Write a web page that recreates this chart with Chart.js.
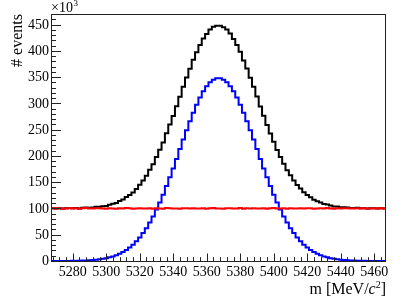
<!DOCTYPE html>
<html>
<head>
<meta charset="utf-8">
<script src="https://cdn.jsdelivr.net/npm/chart.js@4.4.0/dist/chart.umd.min.js"></script>
<style>
    html, body { margin: 0; padding: 0; background: #fff; }
    #wrap { width: 407px; height: 299px; }
</style>
</head>
<body>
<div id="wrap"><canvas id="massPlot" width="407" height="299"></canvas></div>
<script>
// histogram bin edges, m [MeV/c^2], 2 MeV bins
const binEdges = [
    5267, 5269, 5271, 5273, 5275, 5277, 5279, 5281, 5283, 5285,
    5287, 5289, 5291, 5293, 5295, 5297, 5299, 5301, 5303, 5305,
    5307, 5309, 5311, 5313, 5315, 5317, 5319, 5321, 5323, 5325,
    5327, 5329, 5331, 5333, 5335, 5337, 5339, 5341, 5343, 5345,
    5347, 5349, 5351, 5353, 5355, 5357, 5359, 5361, 5363, 5365,
    5367, 5369, 5371, 5373, 5375, 5377, 5379, 5381, 5383, 5385,
    5387, 5389, 5391, 5393, 5395, 5397, 5399, 5401, 5403, 5405,
    5407, 5409, 5411, 5413, 5415, 5417, 5419, 5421, 5423, 5425,
    5427, 5429, 5431, 5433, 5435, 5437, 5439, 5441, 5443, 5445,
    5447, 5449, 5451, 5453, 5455, 5457, 5459, 5461, 5463, 5465,
    5467
];

// events per bin (x10^3)
const totalCounts = [
    100.2, 99.8, 100.6, 99.7, 100.3, 100.9, 100.2, 100.7, 100.1, 101.2,
    101.9, 101.5, 101.6, 103.1, 103.4, 104.0, 104.8, 107.2, 108.7, 110.6,
    114.2, 116.9, 121.7, 125.8, 130.3, 137.1, 145.1, 153.2, 162.3, 173.7,
    184.3, 198.1, 211.5, 225.6, 243.3, 259.6, 276.0, 294.4, 312.4, 331.6,
    349.1, 365.9, 382.8, 397.1, 411.0, 423.2, 432.0, 440.3, 445.9, 447.6,
    447.8, 444.7, 440.5, 432.7, 422.6, 411.0, 398.1, 381.6, 366.4, 348.8,
    331.7, 313.1, 294.0, 276.5, 258.8, 242.8, 226.9, 211.3, 197.9, 185.1,
    172.7, 163.0, 153.2, 144.6, 137.8, 130.7, 125.8, 121.5, 116.5, 113.7,
    111.3, 108.5, 107.6, 105.5, 103.8, 103.6, 102.4, 102.1, 101.9, 100.7,
    100.9, 101.2, 100.2, 100.6, 99.7, 100.2, 100.5, 100.0, 100.2, 99.8
];

const signalCounts = [
    0, 0, 0.1, 0.1, 0.2, 0.2, 0.3, 0.4, 0.6, 0.8,
    1.0, 1.4, 1.9, 2.5, 3.2, 4.2, 5.4, 6.9, 8.7, 11.0,
    13.7, 17.0, 20.9, 25.6, 31.0, 37.4, 44.7, 53.1, 62.5, 73.1,
    84.8, 97.9, 111.5, 126.0, 142.6, 159.3, 176.1, 194.3, 213.0, 231.1,
    248.9, 266.1, 282.2, 297.4, 311.0, 322.8, 332.5, 340.0, 345.1, 347.7,
    347.7, 345.1, 340.0, 332.5, 322.8, 311.0, 297.4, 282.2, 266.1, 248.9,
    231.1, 213.0, 194.3, 176.1, 159.3, 142.6, 126.0, 111.5, 97.9, 84.8,
    73.1, 62.5, 53.1, 44.7, 37.4, 31.0, 25.6, 20.9, 17.0, 13.7,
    11.0, 8.7, 6.9, 5.4, 4.2, 3.2, 2.5, 1.9, 1.4, 1.0,
    0.8, 0.6, 0.4, 0.3, 0.2, 0.2, 0.1, 0.1, 0, 0
];

const flatCounts = [
    100.2, 99.8, 100.5, 99.6, 100.1, 100.7, 99.9, 100.3, 99.5, 100.4,
    100.9, 100.1, 99.7, 100.6, 100.2, 99.8, 99.4, 100.3, 100.0, 99.6,
    100.5, 99.9, 100.8, 100.2, 99.3, 99.7, 100.4, 100.1, 99.8, 100.6,
    99.5, 100.2, 100.0, 99.6, 100.7, 100.3, 99.9, 100.1, 99.4, 100.5,
    100.2, 99.8, 100.6, 99.7, 100.0, 100.4, 99.5, 100.3, 100.8, 99.9,
    100.1, 99.6, 100.5, 100.2, 99.8, 100.0, 100.7, 99.4, 100.3, 99.9,
    100.6, 100.1, 99.7, 100.4, 99.5, 100.2, 100.9, 99.8, 100.0, 100.3,
    99.6, 100.5, 100.1, 99.9, 100.4, 99.7, 100.2, 100.6, 99.5, 100.0,
    100.3, 99.8, 100.7, 100.1, 99.6, 100.4, 99.9, 100.2, 100.5, 99.7,
    100.1, 100.6, 99.8, 100.3, 99.5, 100.0, 100.4, 99.9, 100.2, 99.8
];

const xTickLabels = [5280, 5300, 5320, 5340, 5360, 5380, 5400, 5420, 5440, 5460];
const yTickLabels = [0, 50, 100, 150, 200, 250, 300, 350, 400, 450];

const X_MIN = 5267, X_MAX = 5467;
const Y_MIN = 0, Y_MAX = 470;

// one point per bin edge, last edge repeats the last bin
const toSteps = (counts) => binEdges.map((x, i) => ({ x: x, y: counts[Math.min(i, counts.length - 1)] }));

const serif = "'Liberation Serif', 'DejaVu Serif', serif";

// ROOT-like frame, inward ticks and labels
const rootFrame = {
    id: "rootFrame",
    afterDraw(chart) {
        const ctx = chart.ctx;
        const a = chart.chartArea;
        const xs = chart.scales.x;
        const ys = chart.scales.y;

        ctx.save();
        ctx.strokeStyle = "#222";
        ctx.lineWidth = 1;
        ctx.strokeRect(Math.round(a.left) + 0.5, Math.round(a.top) + 0.5,
            Math.round(a.right - a.left) - 1, Math.round(a.bottom - a.top));

        ctx.beginPath();
        // x ticks
        for (let v = 5268; v <= X_MAX; v += 4) {
            const px = Math.round(xs.getPixelForValue(v)) + 0.5;
            const len = xTickLabels.includes(v) ? 7.5 : 3.8;
            ctx.moveTo(px, a.bottom);
            ctx.lineTo(px, a.bottom - len);
        }
        // y ticks
        for (let v = 0; v <= Y_MAX; v += 10) {
            const py = Math.round(ys.getPixelForValue(v)) + 0.5;
            const len = yTickLabels.includes(v) ? 10 : 5;
            ctx.moveTo(a.left, py);
            ctx.lineTo(a.left + len, py);
        }
        ctx.stroke();

        ctx.fillStyle = "#000";
        ctx.font = "14px " + serif;
        ctx.textAlign = "center";
        ctx.textBaseline = "top";
        xTickLabels.forEach(v => {
            ctx.fillText(String(v), xs.getPixelForValue(v), a.bottom + 4);
        });

        ctx.textAlign = "right";
        ctx.textBaseline = "middle";
        yTickLabels.forEach(v => {
            ctx.fillText(String(v), a.left - 2, ys.getPixelForValue(v) + 0.5);
        });

        // exponent
        ctx.textAlign = "left";
        ctx.textBaseline = "alphabetic";
        ctx.font = "14px " + serif;
        ctx.fillText("\u00d710", a.left, 12);
        const w10 = ctx.measureText("\u00d710").width;
        ctx.font = "9px " + serif;
        ctx.fillText("3", a.left + w10 + 0.5, 6);

        // x title
        ctx.font = "16px " + serif;
        ctx.textAlign = "right";
        let xr = a.right;
        const yb = 294;
        ctx.fillText("]", xr, yb);
        xr -= ctx.measureText("]").width;
        ctx.font = "10px " + serif;
        ctx.fillText("2", xr, yb - 6);
        xr -= ctx.measureText("2").width;
        ctx.font = "italic 16px " + serif;
        ctx.fillText("c", xr, yb);
        xr -= ctx.measureText("c").width;
        ctx.font = "16px " + serif;
        ctx.fillText("m [MeV/", xr, yb);

        // y title
        ctx.translate(22, a.top);
        ctx.rotate(-Math.PI / 2);
        ctx.textAlign = "right";
        ctx.fillText("# events", 0, 0);
        ctx.restore();
    }
};

const lineSet = (label, counts, colour) => ({
    label: label,
    data: toSteps(counts),
    borderColor: colour,
    borderWidth: 2,
    stepped: "before",
    pointRadius: 0,
    fill: false,
    tension: 0
});

new Chart(document.getElementById("massPlot"), {
    type: "line",
    data: {
        datasets: [
            lineSet("background", flatCounts, "#ff0000"),
            lineSet("signal", signalCounts, "#0000ff"),
            lineSet("total", totalCounts, "#000000")
        ]
    },
    options: {
        responsive: false,
        animation: false,
        events: [],
        layout: { padding: { left: 51, right: 21, top: 14, bottom: 38 } },
        plugins: { legend: { display: false }, tooltip: { enabled: false } },
        scales: {
            x: { type: "linear", display: false, min: X_MIN, max: X_MAX },
            y: { type: "linear", display: false, min: Y_MIN, max: Y_MAX }
        }
    },
    plugins: [rootFrame]
});
</script>
</body>
</html>
